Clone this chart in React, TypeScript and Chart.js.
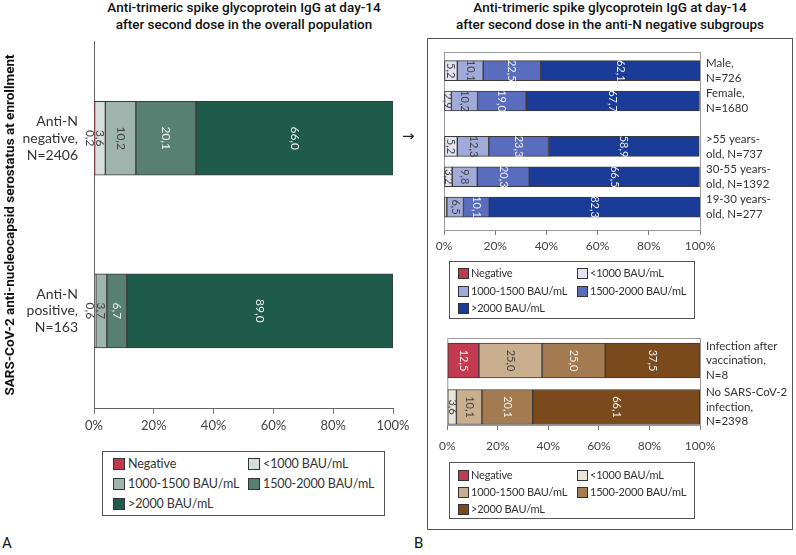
import React, { useEffect, useRef } from 'react';
import { Chart, registerables } from 'chart.js';
Chart.register(...registerables);

// ---------- DATA ----------
const legendLabels = ['Negative', '<1000 BAU/mL', '1000-1500 BAU/mL', '1500-2000 BAU/mL', '>2000 BAU/mL'];
const xTickValues = [0, 20, 40, 60, 80, 100];

const aCategories = [['Anti-N', 'negative,', 'N=2406'], ['Anti-N', 'positive,', 'N=163']];
const aPositions = [0, 1];
const aNegative = [0.2, 0];
const aBelow1000 = [3.6, 0.6];
const a1000to1500 = [10.2, 3.7];
const a1500to2000 = [20.1, 6.7];
const aAbove2000 = [66.0, 89.0];

const b1Categories = [
  ['Male,', 'N=726'],
  ['Female,', 'N=1680'],
  ['>55 years-', 'old, N=737'],
  ['30-55 years-', 'old, N=1392'],
  ['19-30 years-', 'old, N=277'],
];
const b1Positions = [0, 1, 2.5, 3.5, 4.5];
const b1Negative = [0, 0, 0, 0, 0];
const b1Below1000 = [5.2, 2.9, 5.2, 3.2, 1.1];
const b1From1000to1500 = [10.1, 10.2, 12.3, 9.8, 6.5];
const b1From1500to2000 = [22.5, 19.0, 23.3, 20.3, 10.1];
const b1Above2000 = [62.1, 67.7, 58.9, 66.5, 82.3];

const b2Categories = [
  ['Infection after', 'vaccination,', 'N=8'],
  ['No SARS-CoV-2', 'infection,', 'N=2398'],
];
const b2Positions = [0, 1];
const b2Negative = [12.5, 0];
const b2Below1000 = [0, 3.6];
const b2From1000to1500 = [25.0, 10.1];
const b2From1500to2000 = [25.0, 20.1];
const b2Above2000 = [37.5, 66.1];

// ---------- STYLES ----------
const greenColors = ['#c03a4c', '#d5dfdb', '#9fb4ac', '#578073', '#1e5b4b'];
const blueColors = ['#c03a4c', '#e3e5f3', '#a0abda', '#5a6cbd', '#1b3b98'];
const brownColors = ['#c23b50', '#ede4d9', '#c9af8e', '#a47a50', '#7b4a1c'];
const lightText = '#eef0ee';
const darkText = '#444';
const textColorsGB = [lightText, darkText, darkText, lightText, lightText];

const FONT = 'Lato, "Open Sans", sans-serif';

const segLabels = {
  id: 'segLabels',
  afterDatasetsDraw(chart: any, _args: any, opts: any) {
    const ctx = chart.ctx;
    ctx.save();
    ctx.font = `${opts.fontSize}px ${FONT}`;
    ctx.textAlign = 'center';
    ctx.textBaseline = 'middle';
    chart.data.datasets.forEach((ds: any, di: number) => {
      const meta = chart.getDatasetMeta(di);
      meta.data.forEach((el: any, i: number) => {
        const v = ds.data[i].x;
        if (!v || v < opts.minShow) return;
        let cx = (el.x + el.base) / 2;
        let color = opts.textColors[di];
        if (Math.abs(el.x - el.base) < 4) {
          cx = Math.min(el.x, el.base) - 5;
          color = darkText;
        }
        ctx.save();
        ctx.translate(cx, el.y);
        ctx.rotate(Math.PI / 2);
        ctx.fillStyle = color;
        ctx.fillText(v.toFixed(1).replace('.', ','), 0, 0);
        ctx.restore();
      });
    });
    ctx.restore();
  },
};

// category labels to the right of the plot, each block centred on its bar
const sideLabels = {
  id: 'sideLabels',
  afterDraw(chart: any, _args: any, opts: any) {
    if (!opts || !opts.show) return;
    const ctx = chart.ctx;
    const yScale = chart.scales.y;
    const x0 = chart.chartArea.right + opts.gap;
    ctx.save();
    ctx.font = `${opts.fontSize}px ${FONT}`;
    ctx.fillStyle = '#333';
    ctx.textAlign = 'left';
    ctx.textBaseline = 'middle';
    opts.positions.forEach((pos: number, i: number) => {
      const lines: string[] = opts.categories[i];
      const cy = yScale.getPixelForValue(pos);
      lines.forEach((line, j) => {
        ctx.fillText(line, x0, cy + (j - (lines.length - 1) / 2) * opts.lineHeight);
      });
    });
    ctx.restore();
  },
};

const framePlugin = {
  id: 'frame',
  beforeDatasetsDraw(chart: any, _args: any, opts: any) {
    if (!opts || !opts.show) return;
    const { left, right, top, bottom } = chart.chartArea;
    const ctx = chart.ctx;
    ctx.save();
    ctx.strokeStyle = '#9a9a9a';
    ctx.lineWidth = 1;
    ctx.strokeRect(left + 0.5, top + 0.5, right - left, bottom - top);
    ctx.restore();
  },
};

interface PanelSpec {
  categories: string[][];
  positions: number[];
  series: number[][];
  colors: string[];
  textColors: string[];
  yMin: number;
  yMax: number;
  barThickness: number;
  height: number;
  padding: { left: number; right: number; top: number; bottom: number };
  yWidth: number;
  xHeight: number;
  yPosition: 'left' | 'right';
  yTickFont: number;
  yTickLineHeight: number;
  yTickPadding: number;
  xTickFont: number;
  xTickPadding: number;
  labelFont: number;
  minShow: number;
  frame: boolean;
  yTitle?: string;
}

function buildConfig(p: PanelSpec): any {
  const right = p.yPosition === 'right';
  return {
    type: 'bar',
    data: {
      datasets: p.series.map((vals, si) => ({
        label: legendLabels[si],
        data: vals.map((v, i) => ({ x: v, y: p.positions[i] })),
        backgroundColor: p.colors[si],
        borderColor: '#3a3a3a',
        borderWidth: 1,
        borderSkipped: false,
        barThickness: p.barThickness,
        grouped: false,
      })),
    },
    options: {
      indexAxis: 'y',
      responsive: false,
      animation: false,
      layout: { padding: p.padding },
      plugins: {
        legend: { display: false },
        tooltip: { enabled: false },
        segLabels: { fontSize: p.labelFont, minShow: p.minShow, textColors: p.textColors },
        frame: { show: p.frame },
        sideLabels: {
          show: right,
          positions: p.positions,
          categories: p.categories,
          fontSize: p.yTickFont,
          lineHeight: p.yTickFont * p.yTickLineHeight,
          gap: p.yTickPadding,
        },
      },
      scales: {
        x: {
          type: 'linear',
          stacked: true,
          min: 0,
          max: 100,
          afterBuildTicks: (axis: any) => {
            axis.ticks = xTickValues.map((v) => ({ value: v }));
          },
          afterFit: (axis: any) => {
            axis.height = p.xHeight;
          },
          ticks: {
            callback: (v: any) => `${v}%`,
            font: { family: FONT, size: p.xTickFont },
            color: '#444',
            padding: p.xTickPadding,
            maxRotation: 0,
          },
          grid: { drawOnChartArea: false, drawTicks: true, tickLength: 5, color: '#777' },
          border: { display: true, color: '#666', width: 1 },
        },
        y: {
          type: 'linear',
          position: p.yPosition,
          reverse: true,
          offset: false,
          stacked: true,
          min: p.yMin,
          max: p.yMax,
          afterBuildTicks: (axis: any) => {
            axis.ticks = p.positions.map((v) => ({ value: v }));
          },
          afterFit: (axis: any) => {
            axis.width = p.yWidth;
          },
          ticks: {
            display: !right,
            autoSkip: false,
            callback: (_v: any, i: number) => p.categories[i],
            font: { family: FONT, size: p.yTickFont, lineHeight: p.yTickLineHeight },
            color: '#333',
            padding: p.yTickPadding,
          },
          grid: { drawOnChartArea: false, drawTicks: false, offset: false },
          border: { display: true, color: right ? '#9a9a9a' : '#666', width: 1 },
          title: p.yTitle
            ? {
                display: true,
                text: p.yTitle,
                color: '#111',
                font: { family: 'Roboto, sans-serif', size: 13.5, weight: 'bold' },
                padding: { top: 3, bottom: 0 },
              }
            : { display: false },
        },
      },
    },
    plugins: [segLabels, framePlugin, sideLabels],
  };
}

function ChartCanvas({ spec, left, top, width }: { spec: PanelSpec; left: number; top: number; width: number }) {
  const ref = useRef<HTMLCanvasElement>(null);
  useEffect(() => {
    if (!ref.current) return;
    const chart = new Chart(ref.current, buildConfig(spec));
    return () => chart.destroy();
  }, []);
  return (
    <canvas
      ref={ref}
      width={width}
      height={spec.height}
      style={{ position: 'absolute', left, top, width, height: spec.height }}
    />
  );
}

function Legend({ left, top, width, height, colors, fontSize, spacing, swatch, cols, rows }: any) {
  const items = [
    [0, 0], [1, 0], [0, 1], [1, 1], [0, 2],
  ];
  return (
    <div
      style={{
        position: 'absolute', left, top, width, height, boxSizing: 'border-box',
        border: '1px solid #555', background: '#fff',
      }}
    >
      {items.map(([c, r], i) => (
        <React.Fragment key={i}>
          <div
            style={{
              position: 'absolute', left: cols[c][0] - 1, top: rows[r] - swatch / 2 - 1,
              width: swatch, height: swatch, background: colors[i], border: '1px solid #333',
            }}
          />
          <div
            style={{
              position: 'absolute', left: cols[c][1] - 1, top: rows[r] - 9, height: 18, lineHeight: '18px',
              fontFamily: FONT, fontSize, letterSpacing: spacing, color: '#333', whiteSpace: 'nowrap',
            }}
          >
            {legendLabels[i]}
          </div>
        </React.Fragment>
      ))}
    </div>
  );
}

const specA: PanelSpec = {
  categories: aCategories,
  positions: aPositions,
  series: [aNegative, aBelow1000, a1000to1500, a1500to2000, aAbove2000],
  colors: greenColors,
  textColors: textColorsGB,
  yMin: -0.562,
  yMax: 1.567,
  barThickness: 74,
  height: 450,
  padding: { left: 0, right: 27, top: 37, bottom: 0 },
  yWidth: 94,
  xHeight: 34,
  yPosition: 'left',
  yTickFont: 14,
  yTickLineHeight: 1.2,
  yTickPadding: 16,
  xTickFont: 13,
  xTickPadding: 4,
  labelFont: 12,
  minShow: 0.01,
  frame: false,
  yTitle: 'SARS-CoV-2 anti-nucleocapsid serostatus at enrollment',
};

const specB1: PanelSpec = {
  categories: b1Categories,
  positions: b1Positions,
  series: [b1Negative, b1Below1000, b1From1000to1500, b1From1500to2000, b1Above2000],
  colors: blueColors,
  textColors: textColorsGB,
  yMin: -0.617,
  yMax: 5.257,
  barThickness: 20,
  height: 220,
  padding: { left: 14, right: 0, top: 12, bottom: 0 },
  yWidth: 96,
  xHeight: 30,
  yPosition: 'right',
  yTickFont: 11.5,
  yTickLineHeight: 1.3,
  yTickPadding: 6,
  xTickFont: 12,
  xTickPadding: 4,
  labelFont: 11,
  minShow: 2,
  frame: true,
};

const specB2: PanelSpec = {
  categories: b2Categories,
  positions: b2Positions,
  series: [b2Negative, b2Below1000, b2From1000to1500, b2From1500to2000, b2Above2000],
  colors: brownColors,
  textColors: [lightText, darkText, darkText, lightText, lightText],
  yMin: -0.484,
  yMax: 1.387,
  barThickness: 35,
  height: 130,
  padding: { left: 14, right: 0, top: 8, bottom: 0 },
  yWidth: 96,
  xHeight: 35,
  yPosition: 'right',
  yTickFont: 11.5,
  yTickLineHeight: 1.27,
  yTickPadding: 6,
  xTickFont: 12,
  xTickPadding: 9,
  labelFont: 11,
  minShow: 2,
  frame: true,
};

const titleStyle: React.CSSProperties = {
  position: 'absolute', top: -1, textAlign: 'center', fontFamily: 'Roboto, sans-serif',
  fontWeight: 500, fontSize: 13.5, lineHeight: '17px', color: '#111', whiteSpace: 'nowrap',
};

export default function App() {
  return (
    <div style={{ position: 'absolute', left: 0, top: 0, width: 796, height: 555, background: '#fff', overflow: 'hidden' }}>
      <div style={{ ...titleStyle, left: 64, width: 360 }}>
        Anti-trimeric spike glycoprotein IgG at day-14<br />after second dose in the overall population
      </div>
      <div style={{ ...titleStyle, left: 430, width: 360 }}>
        Anti-trimeric spike glycoprotein IgG at day-14<br />after second dose in the anti-N negative subgroups
      </div>
      <ChartCanvas spec={specA} left={0} top={0} width={420} />
      <div style={{ position: 'absolute', left: 402, top: 127, fontFamily: 'DejaVu Sans, sans-serif', fontSize: 15, color: '#222' }}>→</div>
      <Legend
        left={102} top={451} width={283} height={65} colors={greenColors} fontSize={12.5} spacing={'-0.1px'} swatch={10}
        cols={[[11, 26], [146, 161]]} rows={[12, 32, 52]}
      />
      <div style={{ position: 'absolute', left: 427, top: 38, width: 366, height: 492, boxSizing: 'border-box', border: '1px solid #555' }} />
      <ChartCanvas spec={specB1} left={430} top={40} width={366} />
      <Legend
        left={449} top={261} width={246} height={58} colors={blueColors} fontSize={11} spacing={'-0.2px'} swatch={9}
        cols={[[9, 22], [128, 141]]} rows={[11, 29, 46]}
      />
      <ChartCanvas spec={specB2} left={430} top={330} width={366} />
      <Legend
        left={449} top={462} width={246} height={57} colors={brownColors} fontSize={11} spacing={'-0.2px'} swatch={9}
        cols={[[9, 22], [128, 141]]} rows={[12, 29, 46]}
      />
      <div style={{ position: 'absolute', left: 2, top: 534, fontFamily: 'Roboto, sans-serif', fontSize: 15, color: '#111' }}>A</div>
      <div style={{ position: 'absolute', left: 414, top: 534, fontFamily: 'Roboto, sans-serif', fontSize: 15, color: '#111' }}>B</div>
    </div>
  );
}
